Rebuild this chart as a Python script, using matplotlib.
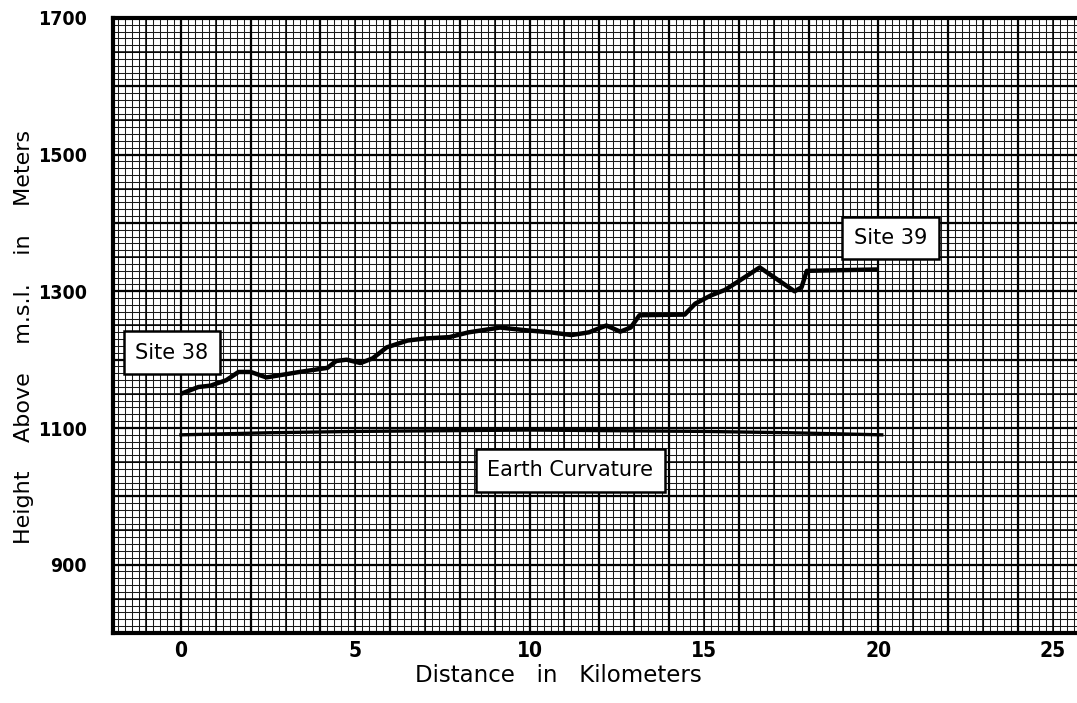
import numpy as np
import matplotlib
matplotlib.use("Agg")
import matplotlib.pyplot as plt

# Terrain profile between the two sites (distance in km, height in m)
profile_km = [0, 0.5, 0.85, 1.3, 1.65, 2.0, 2.45, 3.4, 4.2, 4.45, 4.75, 5.15,
              5.5, 5.9, 6.5, 7.0, 7.7, 8.25, 9.15, 9.9, 10.6, 11.2, 11.7, 12.2,
              12.6, 12.9, 13.15, 14.45, 14.75, 15.2, 15.6, 16.0, 16.6, 17.6,
              17.8, 17.95, 20.0]
profile_m = [1150, 1160, 1162, 1170, 1182, 1182, 1174, 1182, 1188, 1198, 1200,
             1195, 1202, 1218, 1228, 1231, 1233, 1240, 1247, 1243, 1240, 1236,
             1240, 1250, 1241, 1247, 1265, 1266, 1282, 1294, 1302, 1315, 1335,
             1300, 1306, 1330, 1332]

# Earth curvature reference line
curve_km = [0, 2.5, 5, 7.5, 10, 12.5, 15, 17.5, 20.1]
curve_m = [1090, 1093, 1095, 1096, 1097, 1096, 1095, 1093, 1090]

x_ticks = [0, 5, 10, 15, 20, 25]
y_ticks = [900, 1100, 1300, 1500, 1700]

XMIN, XMAX = -1.95, 25.7
YMIN, YMAX = 800, 1700

fig = plt.figure(figsize=(10.77, 7.03), dpi=100)
ax = fig.add_axes([113 / 1077, 1 - 633 / 703, 1 - 113 / 1077, (633 - 18) / 703])
ax.set_xlim(XMIN, XMAX)
ax.set_ylim(YMIN, YMAX)

# Graph-paper grid: fine, medium and heavy rulings
fine_x = np.arange(-1.8, XMAX, 0.2)
fine_y = np.arange(YMIN + 10, YMAX, 10)
ax.vlines(fine_x, YMIN, YMAX, color="#1a1a1a", lw=0.75, zorder=1)
ax.hlines(fine_y, XMIN, XMAX, color="#1a1a1a", lw=0.75, zorder=1)
ax.vlines(np.arange(-1, XMAX, 1.0), YMIN, YMAX, color="black", lw=1.1, zorder=1.1)
ax.hlines(np.arange(YMIN + 50, YMAX, 50), XMIN, XMAX, color="black", lw=1.1, zorder=1.1)
ax.vlines(np.arange(0, XMAX, 2.0), YMIN, YMAX, color="black", lw=1.6, zorder=1.2)
ax.hlines(np.arange(YMIN + 100, YMAX, 100), XMIN, XMAX, color="black", lw=1.6, zorder=1.2)

ax.plot(profile_km, profile_m, color="black", lw=3.2, solid_joinstyle="round",
        solid_capstyle="butt", zorder=3)
ax.plot(curve_km, curve_m, color="black", lw=2.4, zorder=3)

box = dict(boxstyle="square,pad=0.55", facecolor="white", edgecolor="black", lw=1.8)
label_font = dict(fontsize=15, ha="center", va="center", bbox=box, zorder=5)
ax.text(-0.26, 1210, "Site 38", **label_font)
ax.text(20.35, 1378, "Site 39", **label_font)
ax.text(11.17, 1038, "Earth Curvature", **label_font)

ax.set_xticks(x_ticks)
ax.set_yticks(y_ticks)
ax.set_xticklabels([str(v) for v in x_ticks], fontsize=15, fontweight="bold",
                   fontstretch="condensed")
ax.set_yticklabels([str(v) for v in y_ticks], fontsize=14, fontweight="bold",
                   fontstretch="condensed")
ax.tick_params(axis="x", length=0, pad=6)
ax.tick_params(axis="y", length=0, pad=19)

for side in ("left", "bottom", "top"):
    ax.spines[side].set_linewidth(3)
    ax.spines[side].set_zorder(6)
ax.spines["right"].set_visible(False)

fig.text(558 / 1077, 1 - 676 / 703, "Distance   in   Kilometers", fontsize=16.5,
         ha="center", va="center")
fig.text(24 / 1077, 1 - 337 / 703, "Height    Above    m.s.l.    in    Meters",
         fontsize=16, ha="center", va="center", rotation=90)

fig.savefig("out.png", dpi=100)
